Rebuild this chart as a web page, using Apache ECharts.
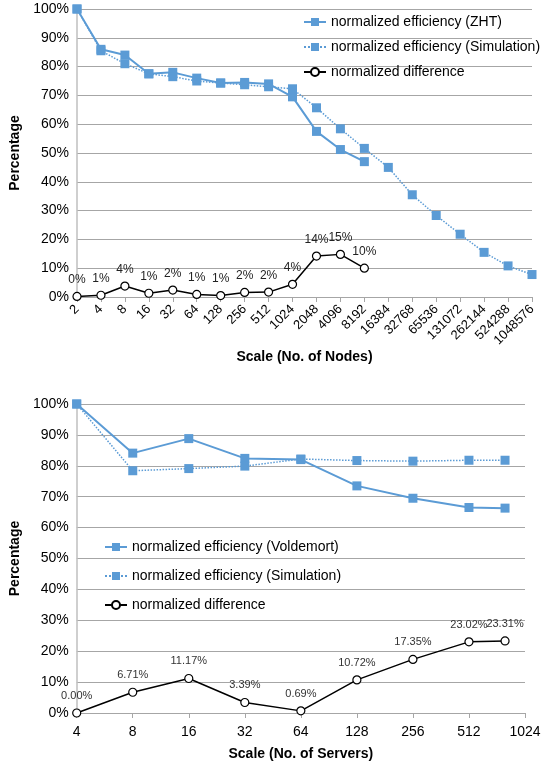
<!DOCTYPE html>
<html>
<head>
<meta charset="utf-8">
<script src="https://cdn.jsdelivr.net/npm/echarts@6/dist/echarts.min.js"></script>
<style>
  html, body { margin: 0; padding: 0; background: #fff; }
  #chart { width: 559px; height: 764px; }
</style>
</head>
<body>
<div id="chart"></div>
<script>
// top chart: ZHT, scale in nodes
var nodeScales = ['2','4','8','16','32','64','128','256','512','1024','2048','4096','8192',
    '16384','32768','65536','131072','262144','524288','1048576'];
var zhtEff = [100, 86, 84, 77.5, 78, 76, 74.3, 74.5, 74, 69.5, 57.5, 51.2, 47];
var zhtSim = [100, 85.5, 81, 77.5, 76.5, 75, 74.3, 73.7, 73, 72.3, 65.7, 58.4, 51.6,
    45, 35.5, 28.3, 21.8, 15.5, 10.8, 7.8];
var zhtDiff = [0.2, 0.6, 3.8, 1.3, 2.4, 0.9, 0.5, 1.6, 1.7, 4.4, 14.2, 14.8, 10];

// bottom chart: Voldemort, scale in servers
var serverScales = [4, 8, 16, 32, 64, 128, 256, 512, 800];
var voldEff = [100, 84.1, 88.8, 82.4, 82, 73.5, 69.5, 66.5, 66.3];
var voldSim = [100, 78.4, 79.1, 79.9, 82.2, 81.7, 81.5, 81.8, 81.8];
var voldDiff = [0.00, 6.71, 11.17, 3.39, 0.69, 10.72, 17.35, 23.02, 23.31];

var blue = '#5b9bd5';
var gridColor = '#a6a6a6';
var font = 'Liberation Sans, Arial, sans-serif';

function pairs(xs, ys) {
    var out = [];
    for (var i = 0; i < ys.length; i++) out.push([xs[i], ys[i]]);
    return out;
}

var yAxisBase = {
    type: 'value', min: 0, max: 100, interval: 10,
    name: 'Percentage', nameLocation: 'middle', nameRotate: 90,
    nameTextStyle: { fontFamily: font, fontWeight: 'bold', fontSize: 14, color: '#000' },
    axisLine: { show: true, lineStyle: { color: '#bfbfbf', width: 1.5 } },
    axisTick: { show: false },
    axisLabel: { formatter: '{value}%', fontFamily: font, fontSize: 14, color: '#000', margin: 8 },
    splitLine: { lineStyle: { color: gridColor, width: 1 } }
};

var myChart = echarts.init(document.getElementById('chart'));

var option = {
    animation: false,
    textStyle: { fontFamily: font },
    grid: [
        { left: 77, right: 27, top: 9, bottom: 467 },
        { left: 73, right: 34, top: 404, bottom: 51 }
    ],
    xAxis: [
        {
            gridIndex: 0, type: 'category', data: nodeScales, boundaryGap: false,
            name: 'Scale (No. of Nodes)', nameLocation: 'middle', nameGap: 48,
            nameTextStyle: { fontFamily: font, fontWeight: 'bold', fontSize: 14, color: '#000' },
            axisLine: { lineStyle: { color: gridColor, width: 1 } },
            axisTick: { show: true, length: 5, lineStyle: { color: gridColor } },
            axisLabel: { rotate: 45, interval: 0, fontFamily: font, fontSize: 13, color: '#000', margin: 10 },
            splitLine: { show: false }
        },
        {
            gridIndex: 1, type: 'log', logBase: 2, min: 4, max: 1024,
            name: 'Scale (No. of Servers)', nameLocation: 'middle', nameGap: 34,
            nameTextStyle: { fontFamily: font, fontWeight: 'bold', fontSize: 14, color: '#000' },
            axisLine: { lineStyle: { color: gridColor, width: 1 } },
            axisTick: { show: true, length: 5, lineStyle: { color: gridColor } },
            axisLabel: {
                fontFamily: font, fontSize: 14, color: '#000', margin: 12,
                formatter: function (v) { return String(Math.round(v)); }
            },
            splitLine: { show: false }
        }
    ],
    yAxis: [
        Object.assign({}, yAxisBase, { gridIndex: 0, nameGap: 46 }),
        Object.assign({}, yAxisBase, { gridIndex: 1, nameGap: 44 })
    ],
    legend: [
        {
            orient: 'vertical', left: 298, top: 10, itemWidth: 22, itemHeight: 10, itemGap: 11,
            textStyle: { fontFamily: font, fontSize: 14, color: '#000' },
            data: ['normalized efficiency (ZHT)', 'normalized efficiency (Simulation)', 'normalized difference (ZHT)'],
            formatter: function (n) { return n.indexOf('difference') > 0 ? 'normalized difference' : n; }
        },
        {
            orient: 'vertical', left: 99, top: 535, itemWidth: 22, itemHeight: 10, itemGap: 15,
            textStyle: { fontFamily: font, fontSize: 14, color: '#000' },
            data: ['normalized efficiency (Voldemort)', 'normalized efficiency (Simulation) ', 'normalized difference']
        }
    ],
    series: [
        {
            name: 'normalized efficiency (ZHT)', type: 'line', xAxisIndex: 0, yAxisIndex: 0,
            data: zhtEff, symbol: 'rect', symbolSize: 9,
            itemStyle: { color: blue }, lineStyle: { color: blue, width: 2 }
        },
        {
            name: 'normalized efficiency (Simulation)', type: 'line', xAxisIndex: 0, yAxisIndex: 0,
            data: zhtSim, symbol: 'rect', symbolSize: 9,
            itemStyle: { color: blue }, lineStyle: { color: blue, width: 1.5, type: 'dotted' }
        },
        {
            name: 'normalized difference (ZHT)', type: 'line', xAxisIndex: 0, yAxisIndex: 0,
            data: zhtDiff, symbol: 'circle', symbolSize: 8,
            itemStyle: { color: '#fff', borderColor: '#000', borderWidth: 1.2 },
            lineStyle: { color: '#000', width: 1.5 },
            label: {
                show: true, position: 'top', distance: 6, fontFamily: font, fontSize: 12, color: '#222',
                formatter: function (p) { return Math.round(p.value) + '%'; }
            }
        },
        {
            name: 'normalized efficiency (Voldemort)', type: 'line', xAxisIndex: 1, yAxisIndex: 1,
            data: pairs(serverScales, voldEff), symbol: 'rect', symbolSize: 9,
            itemStyle: { color: blue }, lineStyle: { color: blue, width: 2 }
        },
        {
            name: 'normalized efficiency (Simulation) ', type: 'line', xAxisIndex: 1, yAxisIndex: 1,
            data: pairs(serverScales, voldSim), symbol: 'rect', symbolSize: 9,
            itemStyle: { color: blue }, lineStyle: { color: blue, width: 1.5, type: 'dotted' }
        },
        {
            name: 'normalized difference', type: 'line', xAxisIndex: 1, yAxisIndex: 1,
            data: pairs(serverScales, voldDiff), symbol: 'circle', symbolSize: 8,
            itemStyle: { color: '#fff', borderColor: '#000', borderWidth: 1.2 },
            lineStyle: { color: '#000', width: 1.5 },
            label: {
                show: true, position: 'top', distance: 7, fontFamily: font, fontSize: 11, color: '#333',
                formatter: function (p) { return p.value[1].toFixed(2) + '%'; }
            }
        }
    ]
};

myChart.setOption(option);
</script>
</body>
</html>
